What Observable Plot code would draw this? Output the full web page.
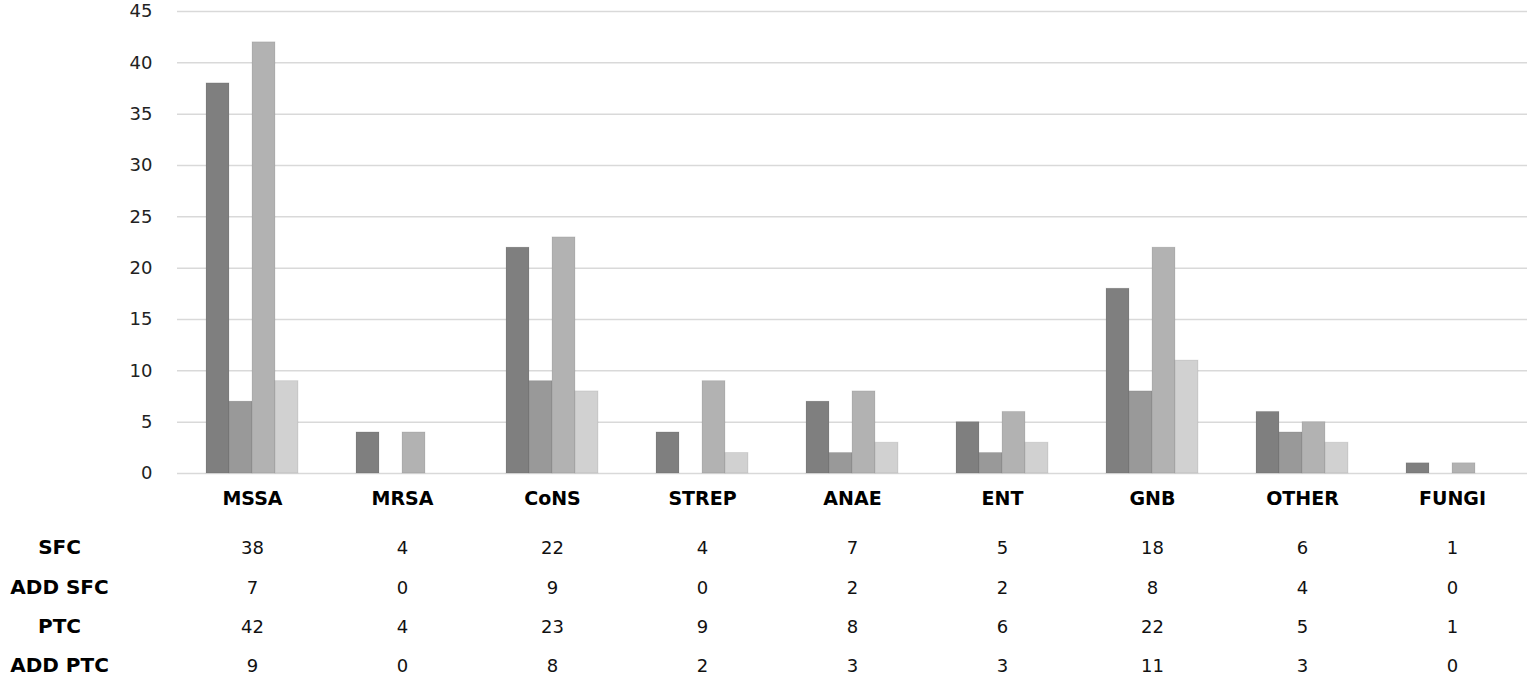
<!DOCTYPE html>
<html>
<head>
<meta charset="utf-8">
<script src="https://cdn.jsdelivr.net/npm/d3@7"></script>
<script src="https://cdn.jsdelivr.net/npm/@observablehq/plot@0.6"></script>
<style>
  html, body { margin: 0; padding: 0; background: #fff; }
  svg { display: block; font-family: "DejaVu Sans", sans-serif; }
</style>
</head>
<body>
<div id="chart"></div>
<script>
const categories = ["MSSA", "MRSA", "CoNS", "STREP", "ANAE", "ENT", "GNB", "OTHER", "FUNGI"];
const seriesNames = ["SFC", "ADD SFC", "PTC", "ADD PTC"];
const sfc    = [38, 4, 22, 4, 7, 5, 18, 6, 1];
const addSfc = [7, 0, 9, 0, 2, 2, 8, 4, 0];
const ptc    = [42, 4, 23, 9, 8, 6, 22, 5, 1];
const addPtc = [9, 0, 8, 2, 3, 3, 11, 3, 0];
const yTicks = [0, 5, 10, 15, 20, 25, 30, 35, 40, 45];
const colors = ["#7f7f7f", "#999999", "#b2b2b2", "#d1d1d1"];

const seriesValues = [sfc, addSfc, ptc, addPtc];
const data = [];
categories.forEach((c, i) => {
  seriesNames.forEach((s, j) => data.push({cat: c, series: s, value: seriesValues[j][i]}));
});

const rowDy = [80, 120, 159, 198];
const tableMarks = seriesNames.map((s, j) =>
  Plot.text(categories, {
    fx: d => d,
    text: (d, i) => String(seriesValues[j][i]),
    frameAnchor: "bottom",
    dy: rowDy[j],
    fontSize: 18,
    fill: "#111"
  })
);
const rowLabelMarks = seriesNames.map((s, j) =>
  Plot.text([s], {
    fx: () => categories[0],
    text: d => d,
    frameAnchor: "bottom-left",
    dx: -118,
    dy: rowDy[j],
    textAnchor: "middle",
    fontSize: 20,
    fontWeight: "bold",
    fill: "#000"
  })
);

const chart = Plot.plot({
  width: 1530,
  height: 676,
  marginLeft: 176,
  marginRight: 2,
  marginTop: 11,
  marginBottom: 203,
  style: {fontFamily: "'DejaVu Sans', sans-serif", background: "#fff"},
  fx: {domain: categories, padding: 0, axis: null},
  x: {domain: seriesNames, paddingInner: 0, paddingOuter: 1.13, axis: null},
  y: {domain: [0, 45], ticks: yTicks},
  color: {domain: seriesNames, range: colors},
  marks: [
    Plot.gridY(yTicks, {stroke: "#d9d9d9", strokeOpacity: 1, strokeWidth: 1.5}),
    Plot.axisY(yTicks, {tickSize: 0, tickPadding: 25, fontSize: 18, fill: "#222", label: null}),
    Plot.barY(data, {fx: "cat", x: "series", y: "value", fill: "series", stroke: "#000", strokeOpacity: 0.08}),
    Plot.text(categories, {
      fx: d => d, text: d => d, frameAnchor: "bottom", dy: 31,
      fontSize: 19, fontWeight: "bold", fill: "#000"
    }),
    ...tableMarks,
    ...rowLabelMarks
  ]
});
document.getElementById("chart").appendChild(chart);
</script>
</body>
</html>
